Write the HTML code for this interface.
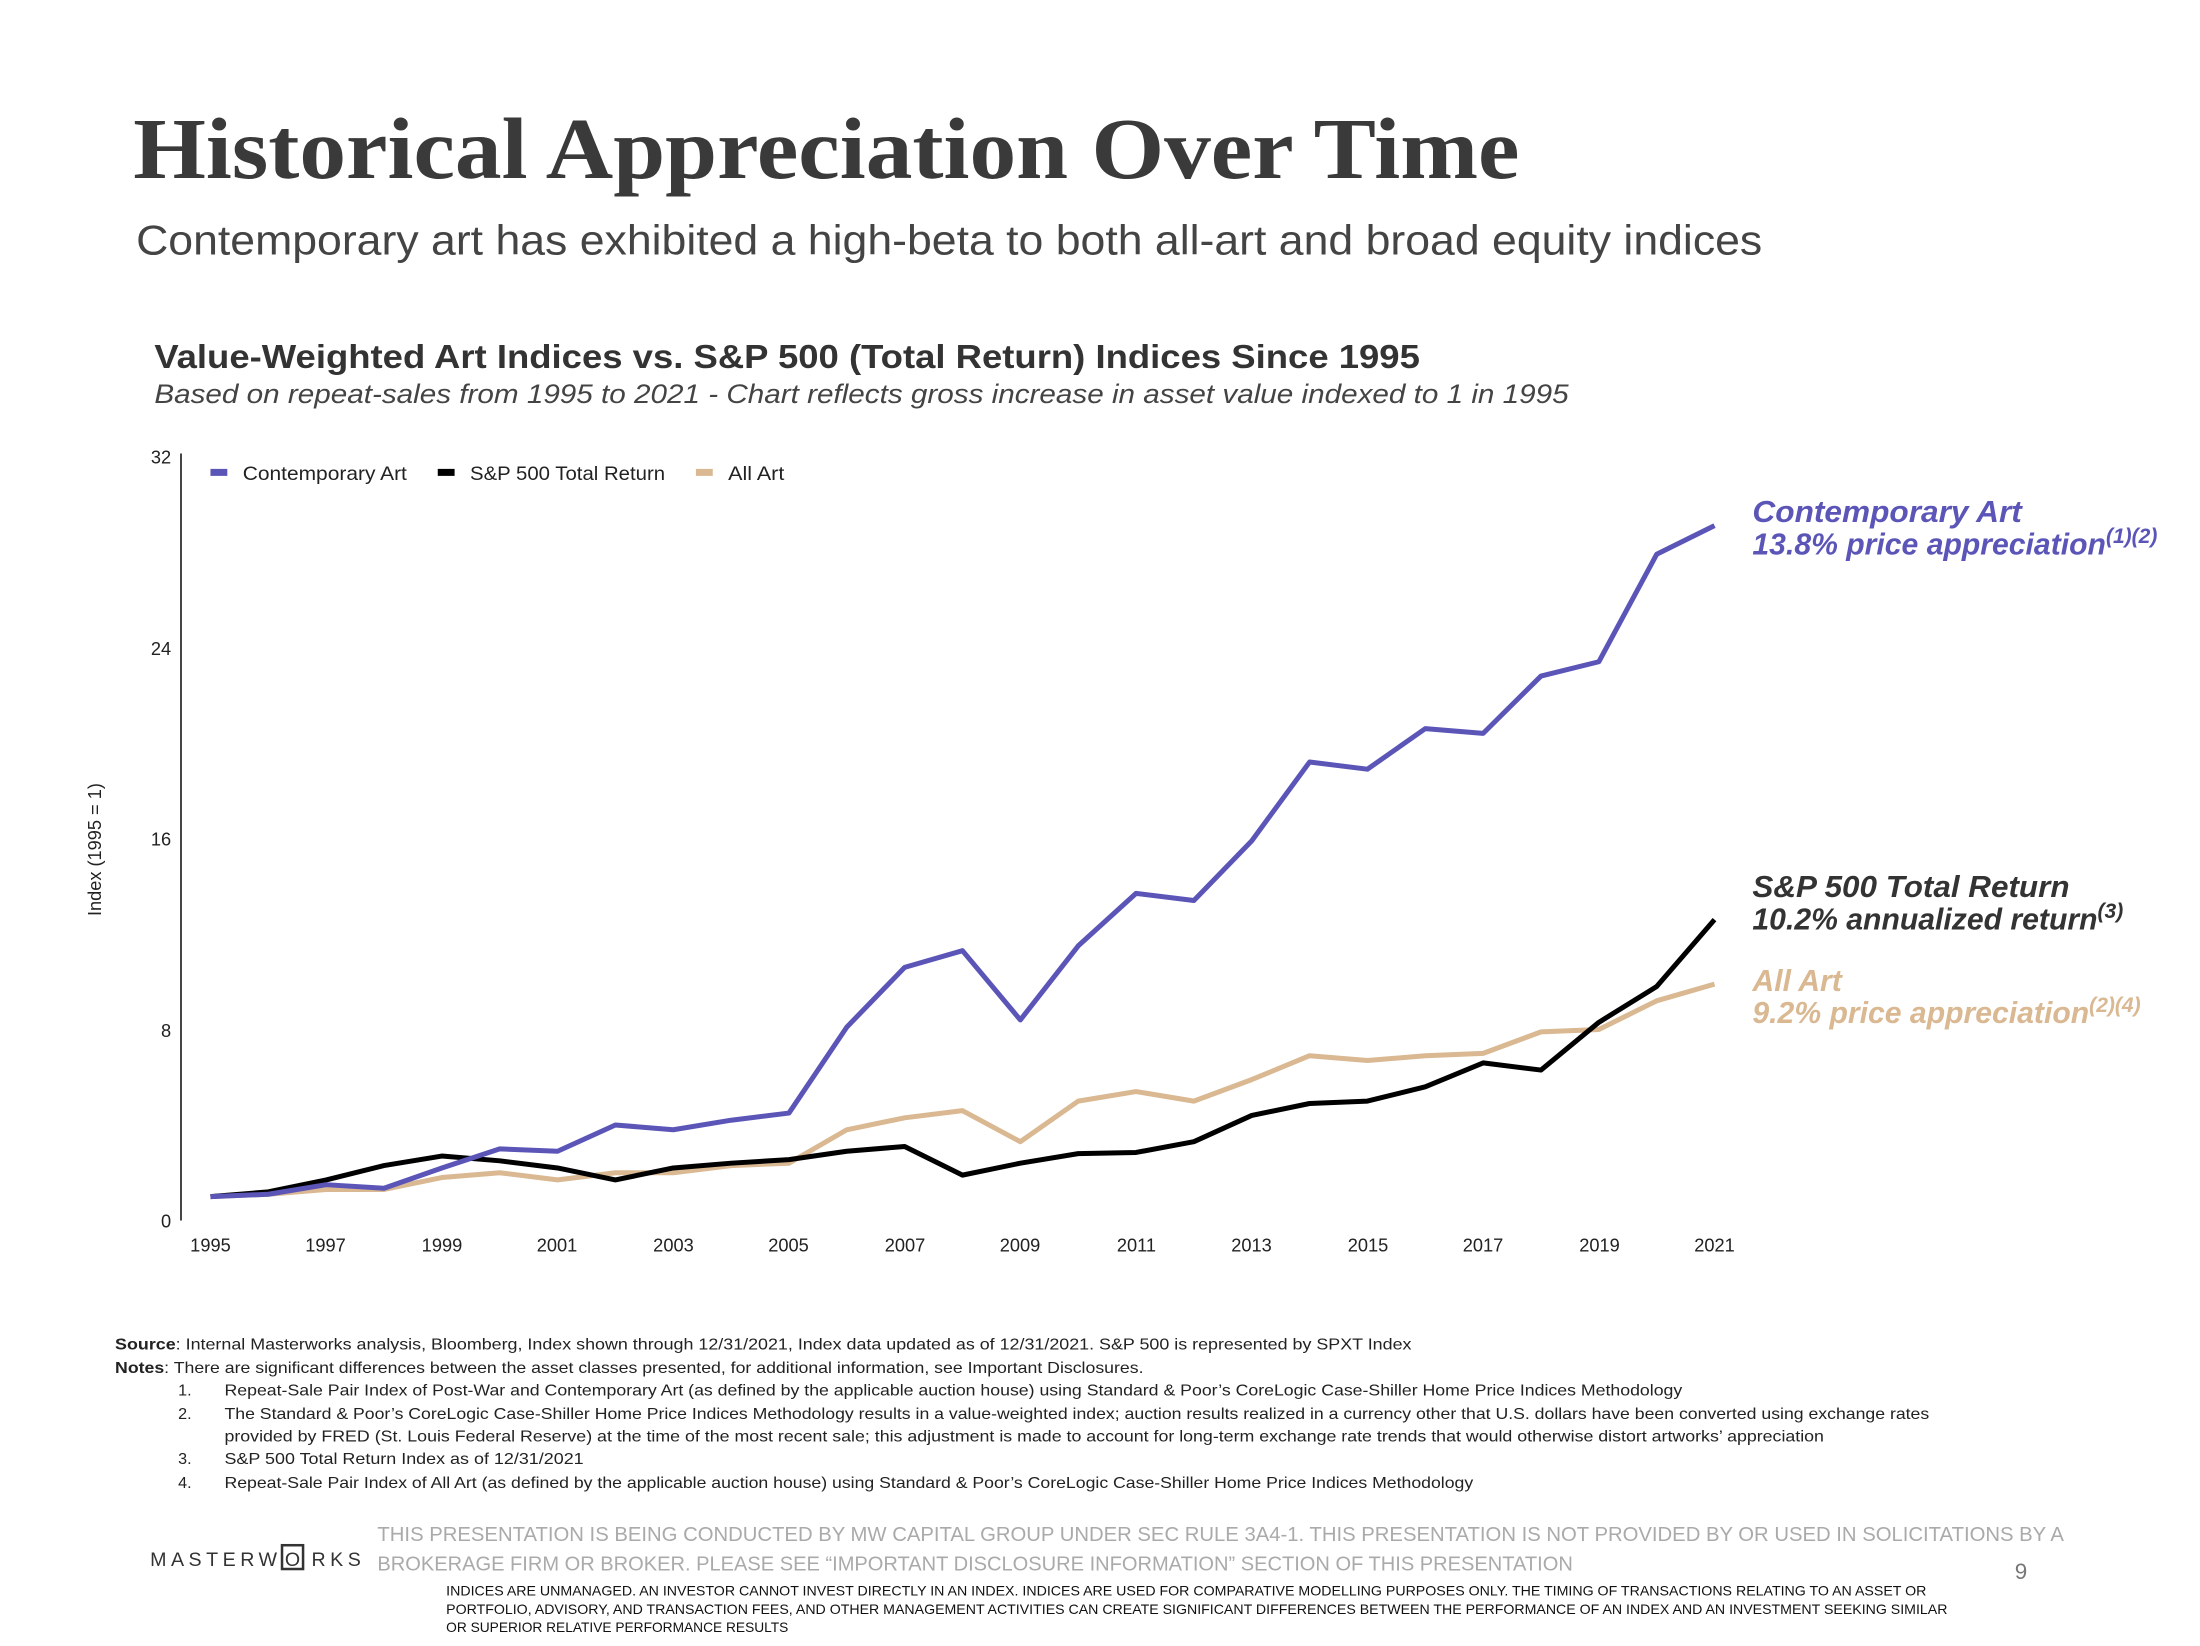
<!DOCTYPE html>
<html><head><meta charset="utf-8"><style>
html,body{margin:0;padding:0;background:#fff;}
svg{display:block;}
</style></head><body>
<svg width="2200" height="1646" viewBox="0 0 1568 1176" preserveAspectRatio="none" xmlns="http://www.w3.org/2000/svg" font-family="Liberation Sans, sans-serif">
<text x="95" y="127" font-family="Liberation Serif, serif" font-weight="bold" font-size="62" fill="#3a3a3a" textLength="988" lengthAdjust="spacingAndGlyphs">Historical Appreciation Over Time</text>
<text x="97" y="182" font-size="30" fill="#444" textLength="1159" lengthAdjust="spacingAndGlyphs">Contemporary art has exhibited a high-beta to both all-art and broad equity indices</text>
<text x="110" y="263" font-size="24" font-weight="bold" fill="#333" textLength="902" lengthAdjust="spacingAndGlyphs">Value-Weighted Art Indices vs. S&amp;P 500 (Total Return) Indices Since 1995</text>
<text x="110" y="288" font-size="19" font-style="italic" fill="#444" textLength="1008" lengthAdjust="spacingAndGlyphs">Based on repeat-sales from 1995 to 2021 - Chart reflects gross increase in asset value indexed to 1 in 1995</text>

<line x1="129" y1="324" x2="129" y2="872" stroke="#222" stroke-width="1.2"/>
<g font-size="13" fill="#222" text-anchor="end">
<text x="122" y="331">32</text><text x="122" y="468">24</text><text x="122" y="604">16</text><text x="122" y="741">8</text><text x="122" y="877">0</text>
</g>
<text transform="translate(72,607) rotate(-90)" font-size="13" fill="#222" text-anchor="middle">Index (1995 = 1)</text>
<g font-size="13" fill="#222" text-anchor="middle">
<text x="150" y="894">1995</text><text x="232" y="894">1997</text><text x="315" y="894">1999</text><text x="397" y="894">2001</text><text x="480" y="894">2003</text><text x="562" y="894">2005</text><text x="645" y="894">2007</text><text x="727" y="894">2009</text><text x="810" y="894">2011</text><text x="892" y="894">2013</text><text x="975" y="894">2015</text><text x="1057" y="894">2017</text><text x="1140" y="894">2019</text><text x="1222" y="894">2021</text>
</g>
<g font-size="14" fill="#222">
<rect x="150" y="335" width="12" height="5" fill="#5b55b8"/><text x="173" y="343" textLength="117" lengthAdjust="spacingAndGlyphs">Contemporary Art</text>
<rect x="312" y="335" width="12" height="5" fill="#000"/><text x="335" y="343" textLength="139" lengthAdjust="spacingAndGlyphs">S&amp;P 500 Total Return</text>
<rect x="496" y="335" width="12" height="5" fill="#d9b892"/><text x="519" y="343" textLength="40" lengthAdjust="spacingAndGlyphs">All Art</text>
</g>
<g transform="translate(150,872) scale(41.23,-17.06)" fill="none" stroke-linejoin="round">
<polyline vector-effect="non-scaling-stroke" stroke="#d9b892" stroke-width="5" points="0,1 1,1.1 2,1.3 3,1.3 4,1.8 5,2 6,1.7 7,2 8,2 9,2.3 10,2.4 11,3.8 12,4.3 13,4.6 14,3.3 15,5 16,5.4 17,5 18,5.9 19,6.9 20,6.7 21,6.9 22,7 23,7.9 24,8 25,9.2 26,9.9"/>
<polyline vector-effect="non-scaling-stroke" stroke="#000" stroke-width="5" points="0,1 1,1.2 2,1.7 3,2.3 4,2.7 5,2.5 6,2.2 7,1.7 8,2.2 9,2.4 10,2.55 11,2.9 12,3.1 13,1.9 14,2.4 15,2.8 16,2.85 17,3.3 18,4.4 19,4.9 20,5 21,5.6 22,6.6 23,6.3 24,8.3 25,9.8 26,12.6"/>
<polyline vector-effect="non-scaling-stroke" stroke="#5b55b8" stroke-width="5" points="0,1 1,1.1 2,1.5 3,1.35 4,2.2 5,3 6,2.9 7,4 8,3.8 9,4.2 10,4.5 11,8.1 12,10.6 13,11.3 14,8.4 15,11.5 16,13.7 17,13.4 18,15.9 19,19.2 20,18.9 21,20.6 22,20.4 23,22.8 24,23.4 25,27.9 26,29.1"/>
</g>
<g font-size="21.5" font-weight="bold" font-style="italic">
<text x="1249" y="373" fill="#5b55b8" textLength="192" lengthAdjust="spacingAndGlyphs">Contemporary Art</text>
<text x="1249" y="396" fill="#5b55b8">13.8% price appreciation<tspan font-size="15" dy="-8">(1)(2)</tspan></text>
<text x="1249" y="641" fill="#333" textLength="226" lengthAdjust="spacingAndGlyphs">S&amp;P 500 Total Return</text>
<text x="1249" y="664" fill="#333">10.2% annualized return<tspan font-size="15" dy="-8">(3)</tspan></text>
<text x="1249" y="708" fill="#d9b892">All Art</text>
<text x="1249" y="731" fill="#d9b892">9.2% price appreciation<tspan font-size="15" dy="-8">(2)(4)</tspan></text>
</g>
<g font-size="11.5" fill="#222" lengthAdjust="spacingAndGlyphs">
<text x="82" y="964" textLength="924" lengthAdjust="spacingAndGlyphs"><tspan font-weight="bold">Source</tspan>: Internal Masterworks analysis, Bloomberg, Index shown through 12/31/2021, Index data updated as of 12/31/2021. S&amp;P 500 is represented by SPXT Index</text>
<text x="82" y="981" textLength="733" lengthAdjust="spacingAndGlyphs"><tspan font-weight="bold">Notes</tspan>: There are significant differences between the asset classes presented, for additional information, see Important Disclosures.</text>
<text x="127" y="997">1.</text><text x="160" y="997" textLength="1039" lengthAdjust="spacingAndGlyphs">Repeat-Sale Pair Index of Post-War and Contemporary Art (as defined by the applicable auction house) using Standard &amp; Poor’s CoreLogic Case-Shiller Home Price Indices Methodology</text>
<text x="127" y="1014">2.</text><text x="160" y="1014" textLength="1215" lengthAdjust="spacingAndGlyphs">The Standard &amp; Poor’s CoreLogic Case-Shiller Home Price Indices Methodology results in a value-weighted index; auction results realized in a currency other that U.S. dollars have been converted using exchange rates</text>
<text x="160" y="1030" textLength="1140" lengthAdjust="spacingAndGlyphs">provided by FRED (St. Louis Federal Reserve) at the time of the most recent sale; this adjustment is made to account for long-term exchange rate trends that would otherwise distort artworks’ appreciation</text>
<text x="127" y="1046">3.</text><text x="160" y="1046" textLength="256" lengthAdjust="spacingAndGlyphs">S&amp;P 500 Total Return Index as of 12/31/2021</text>
<text x="127" y="1063">4.</text><text x="160" y="1063" textLength="890" lengthAdjust="spacingAndGlyphs">Repeat-Sale Pair Index of All Art (as defined by the applicable auction house) using Standard &amp; Poor’s CoreLogic Case-Shiller Home Price Indices Methodology</text>
</g>
<g font-size="14.5" fill="#aaa">
<text x="269" y="1101" textLength="1202" lengthAdjust="spacingAndGlyphs">THIS PRESENTATION  IS BEING CONDUCTED BY MW CAPITAL GROUP UNDER SEC RULE 3A4-1. THIS PRESENTATION  IS NOT PROVIDED BY OR USED IN SOLICITATIONS BY A</text>
<text x="269" y="1122" textLength="852" lengthAdjust="spacingAndGlyphs">BROKERAGE FIRM OR BROKER. PLEASE SEE “IMPORTANT DISCLOSURE INFORMATION” SECTION OF THIS PRESENTATION</text>
</g>
<text x="107" y="1119" font-size="14" fill="#333" letter-spacing="3.2">MASTERW</text>
<rect x="201" y="1104" width="15" height="17" fill="none" stroke="#333" stroke-width="1.8"/>
<text x="208.5" y="1119" font-size="14" fill="#333" text-anchor="middle">O</text>
<text x="222" y="1119" font-size="14" fill="#333" letter-spacing="3.2">RKS</text>
<text x="1436" y="1128" font-size="16" fill="#777">9</text>
<g font-size="9.8" fill="#111">
<text x="318" y="1140" textLength="1055" lengthAdjust="spacingAndGlyphs">INDICES ARE UNMANAGED. AN INVESTOR CANNOT INVEST DIRECTLY IN AN INDEX. INDICES ARE USED FOR COMPARATIVE MODELLING PURPOSES ONLY. THE TIMING OF TRANSACTIONS RELATING TO AN ASSET OR</text>
<text x="318" y="1153" textLength="1070" lengthAdjust="spacingAndGlyphs">PORTFOLIO, ADVISORY, AND TRANSACTION FEES, AND OTHER MANAGEMENT ACTIVITIES CAN CREATE SIGNIFICANT DIFFERENCES BETWEEN THE PERFORMANCE OF AN INDEX AND AN INVESTMENT SEEKING SIMILAR</text>
<text x="318" y="1166">OR SUPERIOR RELATIVE PERFORMANCE RESULTS</text>
</g>
</svg>
</body></html>
